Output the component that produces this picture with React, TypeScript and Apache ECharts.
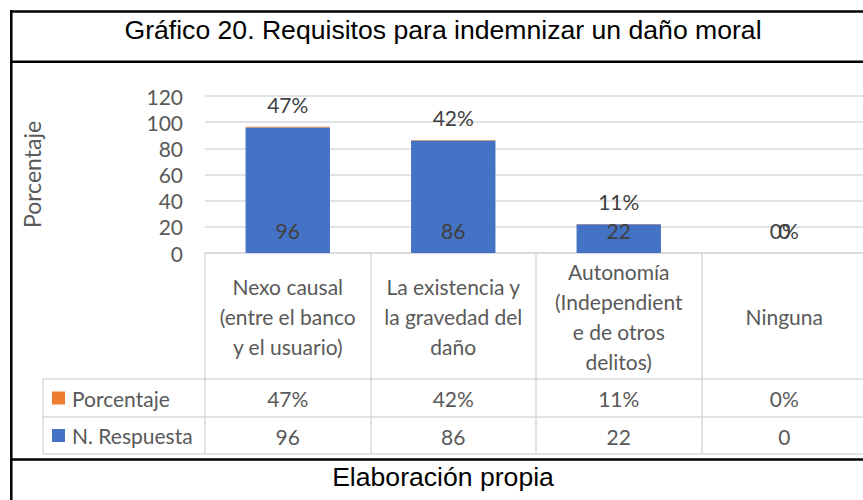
import React, { useEffect, useRef } from 'react';
import * as echarts from 'echarts';

const titleText = 'Gráfico 20. Requisitos para indemnizar un daño moral';
const footerText = 'Elaboración propia';
const categories = [
  'Nexo causal\n(entre el banco\ny el usuario)',
  'La existencia y\nla gravedad del\ndaño',
  'Autonomía\n(Independient\ne de otros\ndelitos)',
  'Ninguna',
];
const responses = [96, 86, 22, 0];
const percentages = [0.47, 0.42, 0.11, 0];
const seriesNames = ['N. Respuesta', 'Porcentaje'];
const yMin = 0;
const yMax = 120;
const yInterval = 20;
const yAxisName = 'Porcentaje';

const fmtPct = (v: number) => Math.round(v * 100) + '%';

const FONT = 'Lato';
const TITLE_FONT = '"Liberation Sans", Arial, sans-serif';
const GRAY = '#595959';
const DARK = '#404040';
const LINE = '#D9D9D9';
const BLUE = '#4472C4';
const ORANGE = '#ED7D31';

export default function App() {
  const ref = useRef<HTMLDivElement>(null);
  useEffect(() => {
    document.body.style.margin = '0';
    if (!ref.current) return;
    const chart = echarts.init(ref.current, null, { renderer: 'svg' });
    const tableLabel = (margin: number) => ({
      interval: 0,
      margin,
      verticalAlign: 'middle',
      fontSize: 21,
      lineHeight: 30,
      color: GRAY,
      fontFamily: FONT,
    });
    const hLine = (y: number, x1: number, x2: number, color: string, w: number) => ({
      type: 'line',
      shape: { x1, y1: y, x2, y2: y },
      style: { stroke: color, lineWidth: w },
      silent: true,
    });
    const vLine = (x: number, y1: number, y2: number, color: string, w: number) => ({
      type: 'line',
      shape: { x1: x, y1, x2: x, y2 },
      style: { stroke: color, lineWidth: w },
      silent: true,
    });
    const option: any = {
      animation: false,
      backgroundColor: '#ffffff',
      grid: { left: 205, top: 96, width: 662, height: 157, containLabel: false, outerBoundsMode: 'none' },
      legend: {
        data: [seriesNames[1], seriesNames[0]],
        orient: 'vertical',
        left: 52,
        top: 387.5,
        padding: 0,
        itemGap: 16.5,
        itemWidth: 13,
        itemHeight: 13,
        icon: 'rect',
        selectedMode: false,
        textStyle: { fontSize: 21, lineHeight: 21, color: GRAY, fontFamily: FONT, padding: [0, 0, 0, 2] },
      },
      xAxis: [
        {
          type: 'category',
          data: categories,
          position: 'bottom',
          axisLine: { show: true, lineStyle: { color: LINE, width: 1.5 } },
          axisTick: { show: true, length: 201, lineStyle: { color: LINE, width: 1.5 } },
          axisLabel: tableLabel(63),
          splitLine: { show: false },
        },
        {
          type: 'category',
          data: percentages.map(fmtPct),
          position: 'bottom',
          axisLine: { show: false },
          axisTick: { show: false },
          axisLabel: tableLabel(145),
          splitLine: { show: false },
        },
        {
          type: 'category',
          data: responses.map(String),
          position: 'bottom',
          axisLine: { show: false },
          axisTick: { show: false },
          axisLabel: tableLabel(183),
          splitLine: { show: false },
        },
      ],
      yAxis: {
        type: 'value',
        min: yMin,
        max: yMax,
        interval: yInterval,
        axisLine: { show: false },
        axisTick: { show: false },
        splitLine: { lineStyle: { color: LINE, width: 1.5 } },
        axisLabel: { margin: 22, fontSize: 21, color: GRAY, fontFamily: FONT },
        name: yAxisName,
        nameLocation: 'middle',
        nameGap: 162,
        nameRotate: 90,
        nameTextStyle: { fontSize: 23, color: GRAY, fontFamily: FONT },
      },
      series: [
        {
          name: seriesNames[0],
          type: 'bar',
          stack: 'total',
          xAxisIndex: 0,
          data: responses,
          barWidth: '51%',
          itemStyle: { color: BLUE },
          label: {
            show: true,
            position: 'insideBottom',
            distance: 12,
            fontSize: 21,
            lineHeight: 21,
            color: DARK,
            fontFamily: FONT,
          },
        },
        {
          name: seriesNames[1],
          type: 'bar',
          stack: 'total',
          xAxisIndex: 0,
          data: percentages,
          barWidth: '51%',
          itemStyle: { color: ORANGE },
          label: {
            show: true,
            position: 'top',
            distance: 12,
            fontSize: 21,
            lineHeight: 21,
            color: DARK,
            fontFamily: FONT,
            formatter: (p: any) => fmtPct(p.value),
          },
        },
      ],
      graphic: [
        hLine(379, 43, 870, LINE, 1.5),
        hLine(417, 43, 870, LINE, 1.5),
        hLine(454, 43, 870, LINE, 1.5),
        vLine(43, 379, 454, LINE, 1.5),
        vLine(11.3, 10, 510, '#000', 2.5),
        hLine(11.5, 10, 880, '#000', 2.5),
        hLine(61.7, 10, 880, '#000', 2.5),
        hLine(459.5, 10, 880, '#000', 2.5),
        {
          type: 'text',
          x: 443,
          y: 30,
          silent: true,
          style: {
            text: titleText,
            fontSize: 26.6,
            fontFamily: TITLE_FONT,
            fill: '#000',
            align: 'center',
            verticalAlign: 'middle',
            textAlign: 'center',
            textVerticalAlign: 'middle',
          },
        },
        {
          type: 'text',
          x: 443,
          y: 477,
          silent: true,
          style: {
            text: footerText,
            fontSize: 26.6,
            fontFamily: TITLE_FONT,
            fill: '#000',
            align: 'center',
            verticalAlign: 'middle',
            textAlign: 'center',
            textVerticalAlign: 'middle',
          },
        },
      ],
    };
    chart.setOption(option);
    return () => chart.dispose();
  }, []);
  return <div ref={ref} style={{ position: 'absolute', left: 0, top: 0, width: 863, height: 500 }} />;
}
